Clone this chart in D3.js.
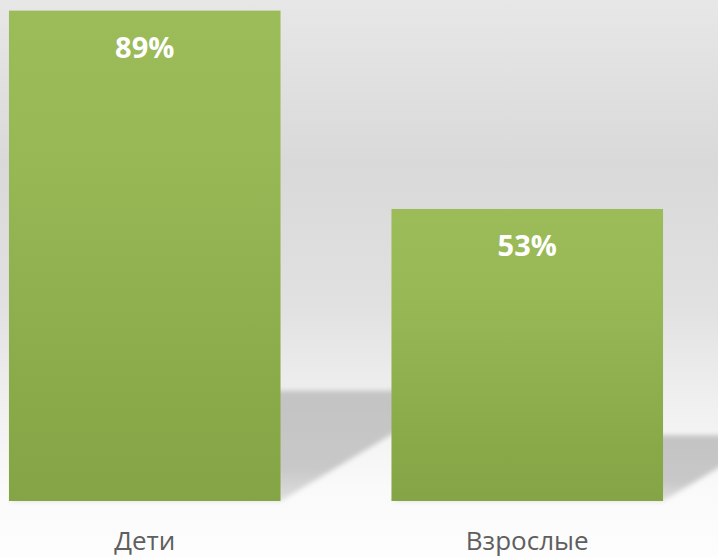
<!DOCTYPE html>
<html>
<head>
    <meta charset="utf-8">
    <title>Дети / Взрослые</title>
    <script src="https://d3js.org/d3.v7.min.js"></script>
    <style>
        body {
            margin: 0;
            overflow: hidden;
            background-color: #ffffff;
        }
        text {
            font-family: "Open Sans", "DejaVu Sans", sans-serif;
        }
    </style>
</head>
<body>
    <svg></svg>

    <script type="text/javascript">
        const categories = ['Дети', 'Взрослые']
        const values = [89, 53]
        const valueLabels = ['89%', '53%']

        const width = 718
        const height = 557
        const baseY = 501

        let svg = d3.select('svg')
            .attr('width', width)
            .attr('height', height)

        let defs = svg.append('defs')

        // background: grey wall fading to a white floor
        let bg = defs.append('linearGradient')
            .attr('id', 'bg').attr('x1', 0).attr('y1', 0).attr('x2', 0).attr('y2', 1)
        bg.append('stop').attr('offset', 0).attr('stop-color', '#e7e7e7')
        bg.append('stop').attr('offset', 0.3).attr('stop-color', '#d9d9d9')
        bg.append('stop').attr('offset', 0.55).attr('stop-color', '#e1e1e1')
        bg.append('stop').attr('offset', 0.71).attr('stop-color', '#efefef')
        bg.append('stop').attr('offset', 0.88).attr('stop-color', '#fafafa')
        bg.append('stop').attr('offset', 1).attr('stop-color', '#fdfdfd')

        let barGrad = defs.append('linearGradient')
            .attr('id', 'bar').attr('x1', 0).attr('y1', 0).attr('x2', 0).attr('y2', 1)
        barGrad.append('stop').attr('offset', 0).attr('stop-color', '#9cbb59')
        barGrad.append('stop').attr('offset', 0.3).attr('stop-color', '#98b755')
        barGrad.append('stop').attr('offset', 1).attr('stop-color', '#84a445')

        let shadowGrad = defs.append('linearGradient')
            .attr('id', 'shadow').attr('x1', 0).attr('y1', 0).attr('x2', 0).attr('y2', 1)
        shadowGrad.append('stop').attr('offset', 0).attr('stop-color', '#c3c3c3')
        shadowGrad.append('stop').attr('offset', 0.7).attr('stop-color', '#c8c8c8')
        shadowGrad.append('stop').attr('offset', 1).attr('stop-color', '#dedede')

        defs.append('filter').attr('id', 'blur')
            .attr('x', '-20%').attr('y', '-20%').attr('width', '140%').attr('height', '140%')
            .append('feGaussianBlur').attr('stdDeviation', 2.5)

        svg.append('rect')
            .attr('width', width).attr('height', height)
            .attr('fill', 'url(#bg)')

        let x = d3.scaleBand()
            .domain(categories)
            .range([-46.5, 718.5])
            .paddingInner(0.29)
            .paddingOuter(0.145)

        let y = d3.scaleLinear()
            .domain([0, 100])
            .range([baseY, -50])

        // perspective shadows thrown back to the right
        svg.append('g').selectAll('path')
            .data(categories)
            .enter()
            .append('path')
            .attr('d', (d, i) => {
                let h = baseY - y(values[i])
                let x0 = x(d), x1 = x(d) + x.bandwidth()
                let dy = 0.225 * h, dx = dy / 0.6
                return `M${x0},${baseY}L${x1},${baseY}L${x1 + dx},${baseY - dy}L${x0 + dx},${baseY - dy}Z`
            })
            .attr('fill', 'url(#shadow)')
            .attr('filter', 'url(#blur)')

        let bars = svg.append('g').selectAll('g')
            .data(categories)
            .enter()
            .append('g')

        bars.append('rect')
            .attr('x', d => x(d))
            .attr('width', x.bandwidth())
            .attr('y', (d, i) => y(values[i]))
            .attr('height', (d, i) => baseY - y(values[i]))
            .attr('fill', 'url(#bar)')

        bars.append('text')
            .text((d, i) => valueLabels[i])
            .attr('x', d => x(d) + x.bandwidth() / 2)
            .attr('y', (d, i) => y(values[i]) + 47)
            .attr('text-anchor', 'middle')
            .attr('fill', '#ffffff')
            .style('font-weight', 'bold')
            .style('font-size', '29px')

        bars.append('text')
            .text(d => d)
            .attr('x', d => x(d) + x.bandwidth() / 2)
            .attr('y', 550)
            .attr('text-anchor', 'middle')
            .attr('fill', '#5f5f5f')
            .style('font-size', '26px')
    </script>
</body>
</html>
